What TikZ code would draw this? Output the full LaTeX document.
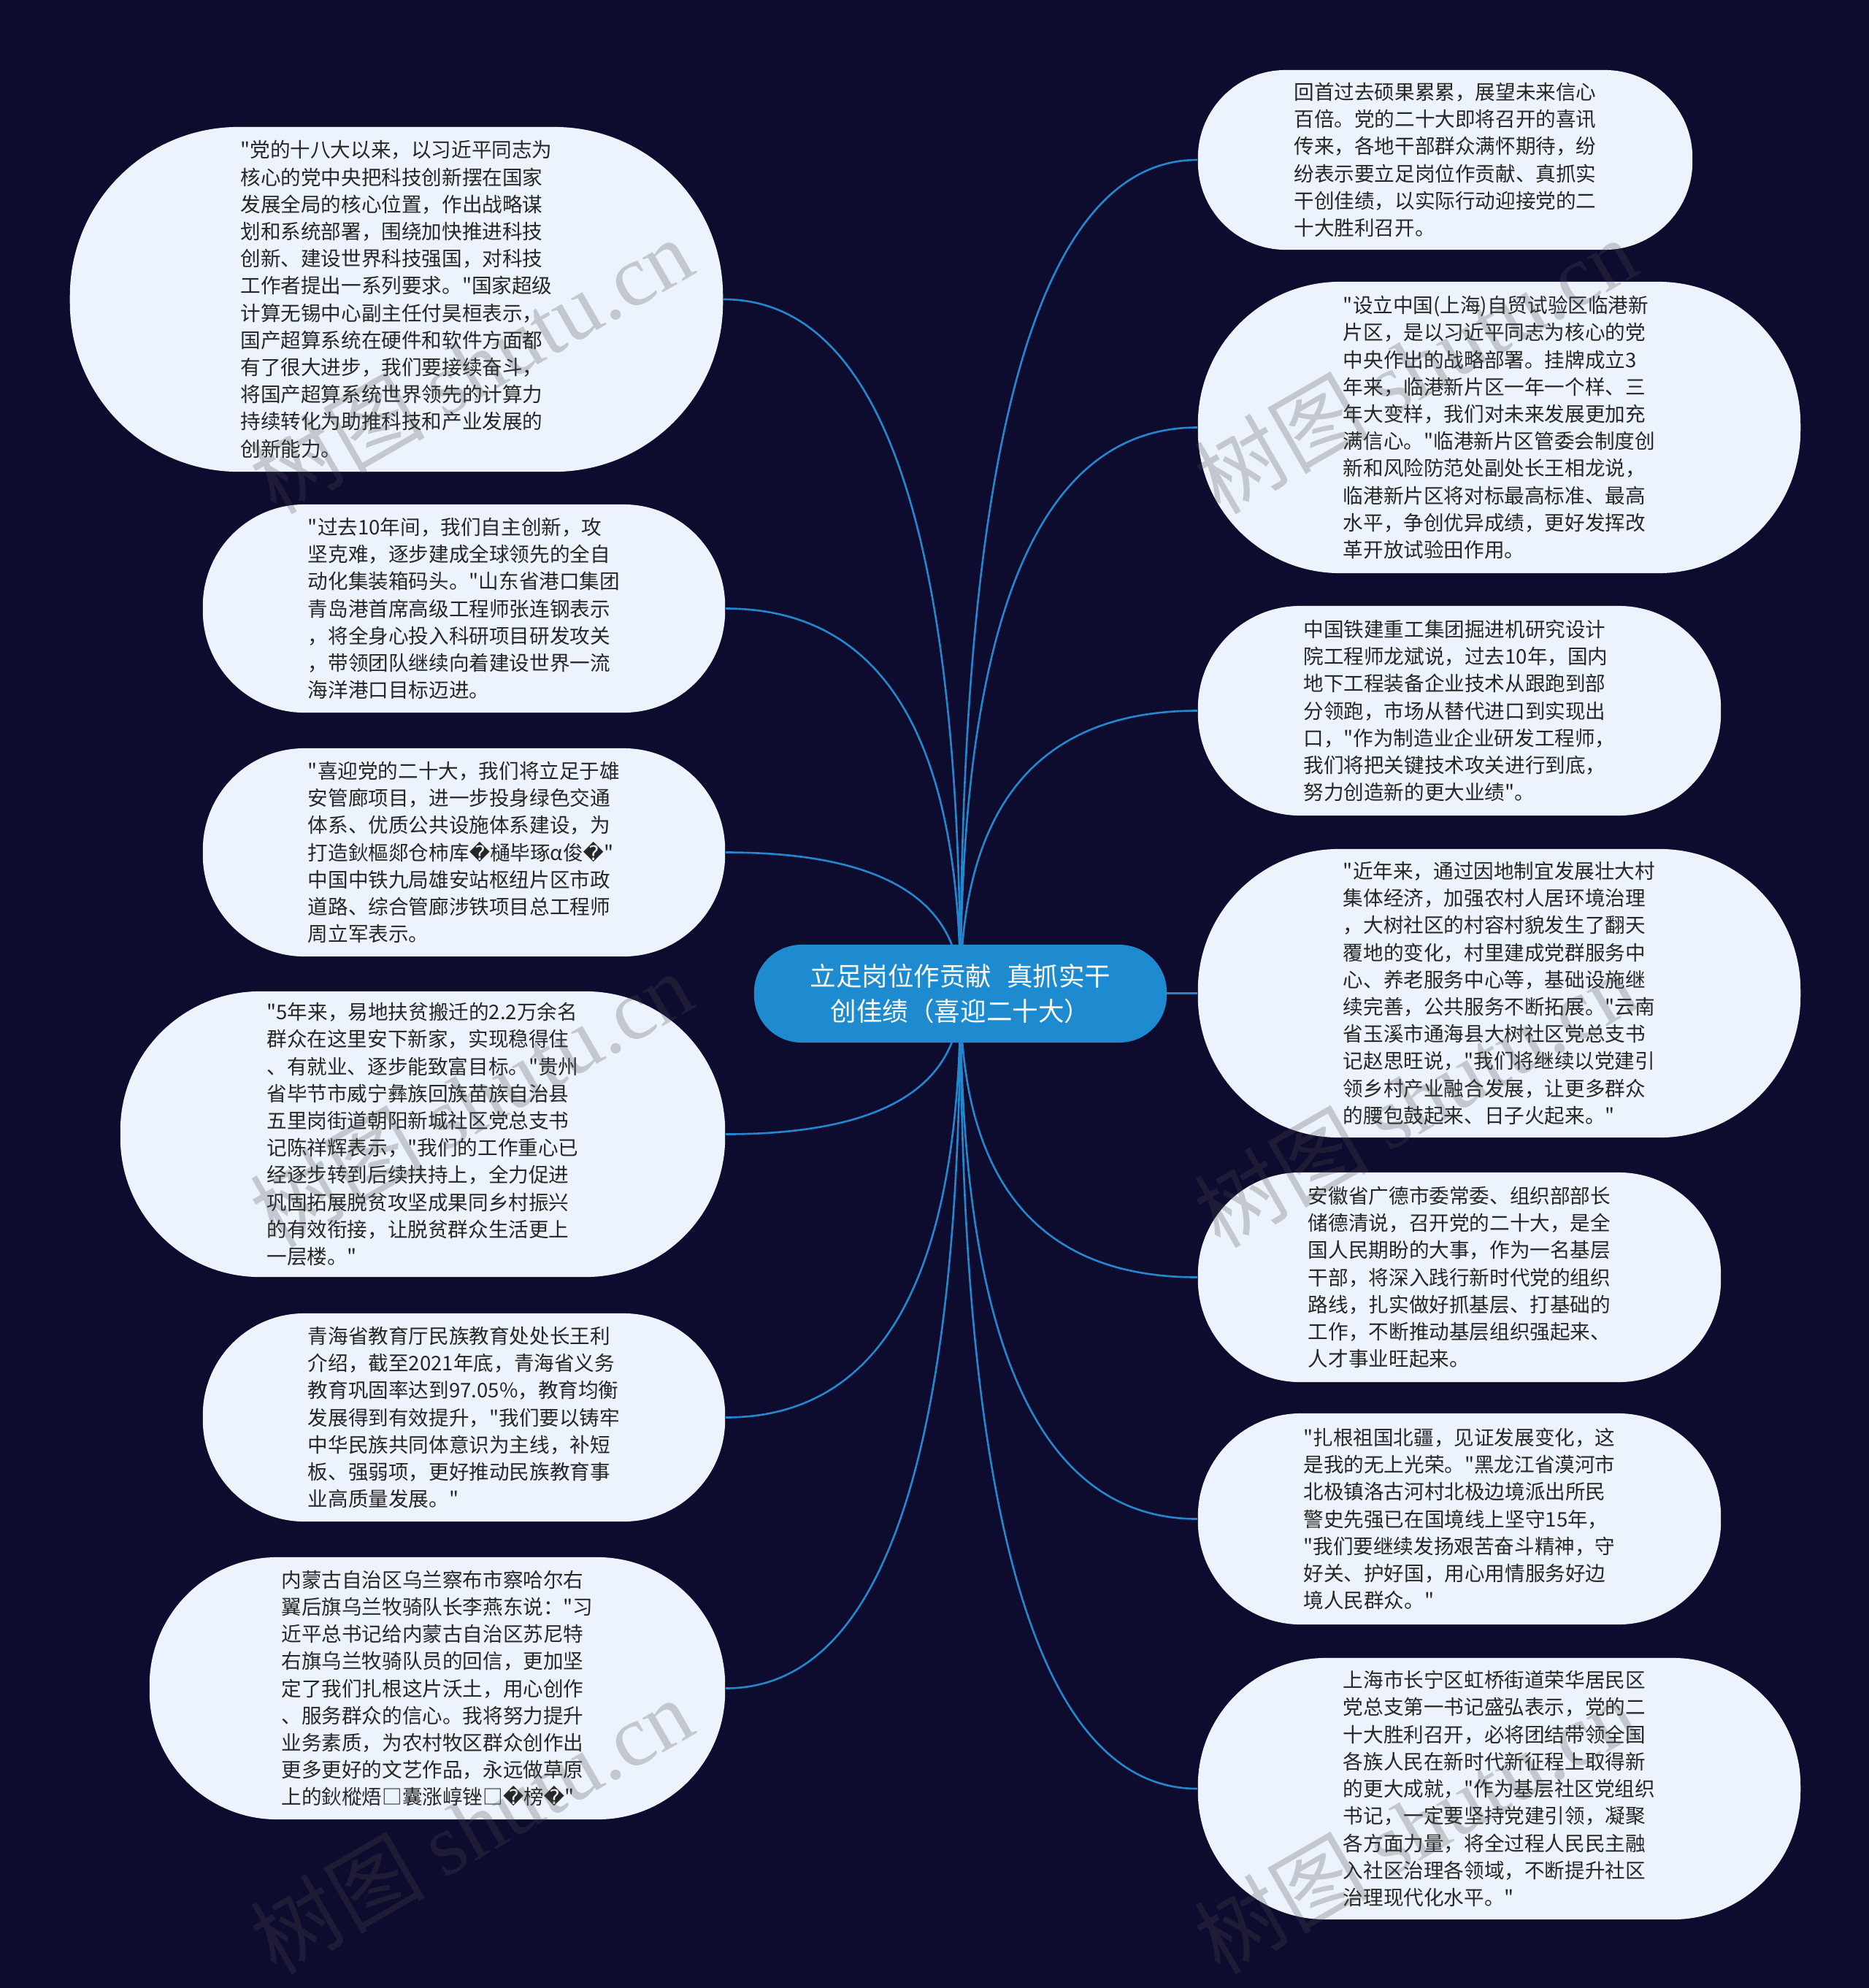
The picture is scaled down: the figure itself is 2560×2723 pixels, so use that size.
\documentclass[tikz,border=0pt]{standalone}
\usepackage{fontspec}
\setmainfont{Noto Sans CJK SC}[Ligatures=TeXOff]
\newfontfamily\dvfont{DejaVu Sans}
\newfontfamily\wmlatin{Liberation Serif}
\usetikzlibrary{calc,backgrounds}
\definecolor{bgcol}{RGB}{13,11,46}
\definecolor{bubfill}{RGB}{237,243,252}
\definecolor{hubfill}{RGB}{30,139,208}
\definecolor{linkcol}{RGB}{36,134,204}
\definecolor{txtcol}{RGB}{38,38,38}
\newcommand\rep{{\dvfont\symbol{"FFFD}}}
\newcommand\linkto[1]{\draw[link] (c.center) .. controls ($(c.center)!0.667!(c.center |- #1)$) and ($(#1)!0.667!(c.center |- #1)$) .. (#1);}
\tikzset{
  bub/.style n args={3}{minimum width=#1cm, minimum height=#2cm, rounded corners=#3cm,
    fill=bubfill, text=txtcol, align=left, inner sep=0pt,
    font={\fontsize{7.85pt}{10.58pt}\selectfont}},
  hub/.style={minimum width=5.65cm, minimum height=1.34cm, rounded corners=0.65cm,
    fill=hubfill, text=white, align=center, inner sep=0pt,
    font={\fontsize{10.1pt}{13.8pt}\selectfont}},
  link/.style={draw=linkcol, line width=0.75pt},
  wm/.style={rotate=30, text=black!70, opacity=0.26, inner sep=0pt,
    font={\fontsize{34pt}{40pt}\selectfont}}
}
\begin{document}
\begin{tikzpicture}[x=0.01cm, y=-0.01cm]
\useasboundingbox (0,0) rectangle (2560,2723);

\node[hub] (c) at (1315.5,1361) {立足岗位作贡献\hspace{0.6em}真抓实干\\创佳绩（喜迎二十大）};

\node[bub={8.94}{4.72}{2.31}] (l1) at (543,410) {"党的十八大以来，以习近平同志为\\核心的党中央把科技创新摆在国家\\发展全局的核心位置，作出战略谋\\划和系统部署，围绕加快推进科技\\创新、建设世界科技强国，对科技\\工作者提出一系列要求。"国家超级\\计算无锡中心副主任付昊桓表示，\\国产超算系统在硬件和软件方面都\\有了很大进步，我们要接续奋斗，\\将国产超算系统世界领先的计算力\\持续转化为助推科技和产业发展的\\创新能力。};

\node[bub={7.15}{2.85}{1.39}] (l2) at (635.5,833.5) {"过去10年间，我们自主创新，攻\\坚克难，逐步建成全球领先的全自\\动化集装箱码头。"山东省港口集团\\青岛港首席高级工程师张连钢表示\\，将全身心投入科研项目研发攻关\\，带领团队继续向着建设世界一流\\海洋港口目标迈进。};

\node[bub={7.15}{2.85}{1.39}] (l3) at (635.5,1167.5) {"喜迎党的二十大，我们将立足于雄\\安管廊项目，进一步投身绿色交通\\体系、优质公共设施体系建设，为\\打造鈥樞郯仓柿库\rep 樋毕琢α俊\rep"\\中国中铁九局雄安站枢纽片区市政\\道路、综合管廊涉铁项目总工程师\\周立军表示。};

\node[bub={8.28}{3.91}{1.91}] (l4) at (579,1553.5) {"5年来，易地扶贫搬迁的2.2万余名\\群众在这里安下新家，实现稳得住\\、有就业、逐步能致富目标。"贵州\\省毕节市威宁彝族回族苗族自治县\\五里岗街道朝阳新城社区党总支书\\记陈祥辉表示，"我们的工作重心已\\经逐步转到后续扶持上，全力促进\\巩固拓展脱贫攻坚成果同乡村振兴\\的有效衔接，让脱贫群众生活更上\\一层楼。"};

\node[bub={7.15}{2.85}{1.39}] (l5) at (635.5,1941.5) {青海省教育厅民族教育处处长王利\\介绍，截至2021年底，青海省义务\\教育巩固率达到97.05\%，教育均衡\\发展得到有效提升，"我们要以铸牢\\中华民族共同体意识为主线，补短\\板、强弱项，更好推动民族教育事\\业高质量发展。"};

\node[bub={7.88}{3.59}{1.75}] (l6) at (599,2312.5) {内蒙古自治区乌兰察布市察哈尔右\\翼后旗乌兰牧骑队长李燕东说："习\\近平总书记给内蒙古自治区苏尼特\\右旗乌兰牧骑队员的回信，更加坚\\定了我们扎根这片沃土，用心创作\\、服务群众的信心。我将努力提升\\业务素质，为农村牧区群众创作出\\更多更好的文艺作品，永远做草原\\上的鈥樅焐□囊涨崞锉□\rep 榜\rep"};

\node[bub={6.77}{2.46}{1.20}] (r1) at (1979.5,219) {回首过去硕果累累，展望未来信心\\百倍。党的二十大即将召开的喜讯\\传来，各地干部群众满怀期待，纷\\纷表示要立足岗位作贡献、真抓实\\干创佳绩，以实际行动迎接党的二\\十大胜利召开。};

\node[bub={8.25}{3.99}{1.95}] (r2) at (2053.5,585.5) {"设立中国(上海)自贸试验区临港新\\片区，是以习近平同志为核心的党\\中央作出的战略部署。挂牌成立3\\年来，临港新片区一年一个样、三\\年大变样，我们对未来发展更加充\\满信心。"临港新片区管委会制度创\\新和风险防范处副处长王相龙说，\\临港新片区将对标最高标准、最高\\水平，争创优异成绩，更好发挥改\\革开放试验田作用。};

\node[bub={7.16}{2.87}{1.40}] (r3) at (1999,973.5) {中国铁建重工集团掘进机研究设计\\院工程师龙斌说，过去10年，国内\\地下工程装备企业技术从跟跑到部\\分领跑，市场从替代进口到实现出\\口，"作为制造业企业研发工程师，\\我们将把关键技术攻关进行到底，\\努力创造新的更大业绩"。};

\node[bub={8.25}{3.95}{1.93}] (r4) at (2053.5,1360.5) {"近年来，通过因地制宜发展壮大村\\集体经济，加强农村人居环境治理\\，大树社区的村容村貌发生了翻天\\覆地的变化，村里建成党群服务中\\心、养老服务中心等，基础设施继\\续完善，公共服务不断拓展。"云南\\省玉溪市通海县大树社区党总支书\\记赵思旺说，"我们将继续以党建引\\领乡村产业融合发展，让更多群众\\的腰包鼓起来、日子火起来。"};

\node[bub={7.16}{2.87}{1.40}] (r5) at (1999,1749.5) {安徽省广德市委常委、组织部部长\\储德清说，召开党的二十大，是全\\国人民期盼的大事，作为一名基层\\干部，将深入践行新时代党的组织\\路线，扎实做好抓基层、打基础的\\工作，不断推动基层组织强起来、\\人才事业旺起来。};

\node[bub={7.16}{2.89}{1.41}] (r6) at (1999,2080.5) {"扎根祖国北疆，见证发展变化，这\\是我的无上光荣。"黑龙江省漠河市\\北极镇洛古河村北极边境派出所民\\警史先强已在国境线上坚守15年，\\"我们要继续发扬艰苦奋斗精神，守\\好关、护好国，用心用情服务好边\\境人民群众。"};

\node[bub={8.25}{3.58}{1.75}] (r7) at (2053.5,2450) {上海市长宁区虹桥街道荣华居民区\\党总支第一书记盛弘表示，党的二\\十大胜利召开，必将团结带领全国\\各族人民在新时代新征程上取得新\\的更大成就，"作为基层社区党组织\\书记，一定要坚持党建引领，凝聚\\各方面力量，将全过程人民民主融\\入社区治理各领域，不断提升社区\\治理现代化水平。"};

\begin{scope}[on background layer]
  \fill[bgcol] (0,0) rectangle (2560,2723);
  \linkto{l1.east}
  \linkto{l2.east}
  \linkto{l3.east}
  \linkto{l4.east}
  \linkto{l5.east}
  \linkto{l6.east}
  \linkto{r1.west}
  \linkto{r2.west}
  \linkto{r3.west}
  \linkto{r4.west}
  \linkto{r5.west}
  \linkto{r6.west}
  \linkto{r7.west}
\end{scope}

\node[wm] (w1) at (645,500) {树图 {\wmlatin shutu.cn}};
\node[wm] (w2) at (645,1505) {树图 {\wmlatin shutu.cn}};
\node[wm] (w3) at (645,2500) {树图 {\wmlatin shutu.cn}};
\node[wm] (w4) at (1938,500) {树图 {\wmlatin shutu.cn}};
\node[wm] (w5) at (1938,1505) {树图 {\wmlatin shutu.cn}};
\node[wm] (w6) at (1938,2500) {树图 {\wmlatin shutu.cn}};
\end{tikzpicture}
\end{document}
